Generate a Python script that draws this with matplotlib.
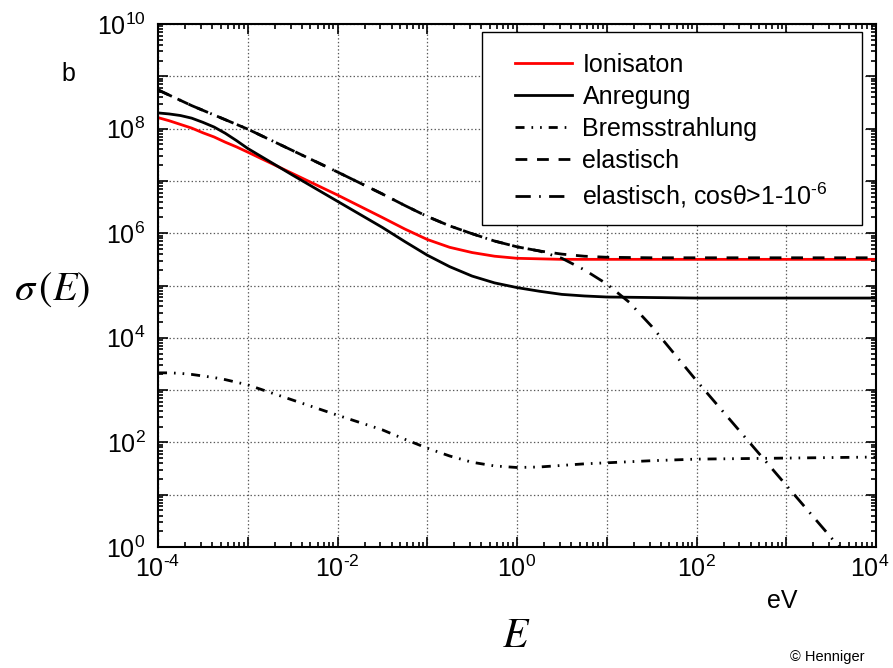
import numpy as np
import matplotlib
matplotlib.use("Agg")
import matplotlib.pyplot as plt
import matplotlib.transforms as mtransforms
from matplotlib.patches import Rectangle
from matplotlib.ticker import LogLocator, FuncFormatter, NullFormatter

# energy grid (log10 of E in eV) and log10 of cross sections
e_log = [-4, -3.875, -3.75, -3.625, -3.5, -3.375, -3.25, -3.125, -3, -2.5, -2,
         -1.5, -1.25, -1, -0.75, -0.5, -0.25, 0, 0.25, 0.5, 0.75, 1, 1.5, 2, 3, 4]
ionisation = [8.21, 8.15, 8.08, 8.01, 7.92, 7.84, 7.74, 7.65, 7.55, 7.14, 6.73,
              6.30, 6.08, 5.88, 5.73, 5.63, 5.56, 5.52, 5.51, 5.50, 5.50, 5.50,
              5.50, 5.50, 5.50, 5.50]
anregung = [8.30, 8.28, 8.25, 8.20, 8.12, 8.03, 7.91, 7.77, 7.62, 7.11, 6.61,
            6.11, 5.84, 5.58, 5.36, 5.18, 5.05, 4.96, 4.89, 4.83, 4.80, 4.78,
            4.77, 4.76, 4.76, 4.76]
brems = [3.33, 3.33, 3.32, 3.30, 3.27, 3.24, 3.20, 3.15, 3.10, 2.81, 2.52,
         2.24, 2.06, 1.89, 1.74, 1.62, 1.55, 1.52, 1.53, 1.56, 1.59, 1.61,
         1.65, 1.68, 1.70, 1.72]
elastisch = [8.74, 8.64, 8.54, 8.44, 8.35, 8.26, 8.17, 8.08, 7.99, 7.58, 7.17,
             6.75, 6.53, 6.32, 6.14, 5.99, 5.85, 5.74, 5.66, 5.60, 5.56, 5.54,
             5.53, 5.53, 5.53, 5.53]

e_log_cos = [-4, -3.875, -3.75, -3.625, -3.5, -3.375, -3.25, -3.125, -3, -2.5, -2,
             -1.5, -1.25, -1, -0.75, -0.5, -0.25, 0, 0.25, 0.5, 0.75, 1, 1.25,
             1.5, 2, 2.5, 3, 3.5, 4]
elastisch_cos = [8.74, 8.64, 8.54, 8.44, 8.35, 8.26, 8.17, 8.08, 7.99, 7.58, 7.17,
                 6.75, 6.53, 6.32, 6.14, 5.99, 5.85, 5.74, 5.66, 5.52, 5.30, 5.03,
                 4.68, 4.22, 3.18, 2.18, 1.18, 0.18, -0.82]

labels = ['Ionisaton', 'Anregung', 'Bremsstrahlung', 'elastisch',
          r'elastisch, cosθ>1-10$^{\text{-}6}$']

plt.rcParams['font.family'] = ['Liberation Sans', 'DejaVu Sans']
plt.rcParams['mathtext.fontset'] = 'custom'
plt.rcParams['mathtext.rm'] = 'Liberation Sans'
plt.rcParams['mathtext.it'] = 'Liberation Sans:italic'
plt.rcParams['mathtext.bf'] = 'Liberation Sans:bold'
plt.rcParams['lines.scale_dashes'] = False

fig = plt.figure(figsize=(8.93, 6.68), dpi=100)
ax = fig.add_axes([158 / 893, 1 - 547 / 668, 718 / 893, 523 / 668])

E = np.power(10.0, e_log)
Ec = np.power(10.0, e_log_cos)
lw = 2.0
ax.plot(E, np.power(10.0, ionisation), color='red', lw=lw, label=labels[0])
ax.plot(E, np.power(10.0, anregung), color='black', lw=lw, label=labels[1])
ax.plot(E, np.power(10.0, brems), color='black', lw=lw, label=labels[2],
        dashes=(6.5, 5.0, 1.2, 5.0, 1.2, 5.0))
ax.plot(E, np.power(10.0, elastisch), color='black', lw=lw, label=labels[3],
        dashes=(8.5, 7.0))
ax.plot(Ec, np.power(10.0, elastisch_cos), color='black', lw=lw, label=labels[4],
        dashes=(11.0, 6.0, 1.2, 6.0))

ax.set_xscale('log')
ax.set_yscale('log')
ax.set_xlim(1e-4, 1e4)
ax.set_ylim(1e0, 1e10)


def even_fmt(v, pos):
    p = int(round(np.log10(v)))
    if p % 2:
        return ''
    if p < 0:
        return r'$10^{\text{-}%d}$' % (-p)
    return r'$10^{%d}$' % p


for axis in (ax.xaxis, ax.yaxis):
    axis.set_major_locator(LogLocator(base=10, numticks=100))
    axis.set_minor_locator(LogLocator(base=10, subs=np.arange(2, 10), numticks=100))
    axis.set_major_formatter(FuncFormatter(even_fmt))
    axis.set_minor_formatter(NullFormatter())

ax.tick_params(which='both', direction='in', top=True, right=True, width=1.2,
               labelsize=18)
ax.tick_params(which='major', length=7)
ax.tick_params(which='minor', length=3.5)
ax.tick_params(axis='x', pad=6)
ax.tick_params(axis='y', pad=9)
for s in ax.spines.values():
    s.set_linewidth(1.5)

ax.grid(True, which='major', linestyle=':', color='0.35', linewidth=0.9)

# legend box drawn by hand so the inner padding matches the original
ax.add_patch(Rectangle((0.4513, 0.6157), 0.5292, 0.369, transform=ax.transAxes,
                       facecolor='white', edgecolor='black', lw=1.0, zorder=4))
leg = ax.legend(loc='upper left', bbox_to_anchor=(0.4972, 0.9455),
                borderaxespad=0, borderpad=0, fontsize=18, frameon=False,
                labelspacing=0.32, handlelength=2.3, handletextpad=0.4)
leg.set_zorder(5)

fig.text(68 / 893, 1 - 74 / 668, 'b', fontsize=18, ha='center', va='center')
fig.text(52 / 893, 1 - 290 / 668, r'$\sigma\,(E)$', fontsize=29, ha='center',
         va='center', math_fontfamily='stix')
fig.text(516 / 893, 1 - 636 / 668, r'$E$', fontsize=30, ha='center',
         va='center', math_fontfamily='stix')
fig.text(782 / 893, 1 - 601 / 668, 'eV', fontsize=18, ha='center', va='center')
fig.text(827 / 893, 1 - 657 / 668, '\u00a9 Henniger', fontsize=10.5,
         ha='center', va='center')

# nudge the last x label inward like the original
fig.canvas.draw()
for lab in ax.get_xticklabels():
    if lab.get_text() == r'$10^{4}$':
        lab.set_transform(lab.get_transform() +
                          mtransforms.ScaledTranslation(-6 / 100, 0, fig.dpi_scale_trans))

fig.savefig('out.png', dpi=100)
